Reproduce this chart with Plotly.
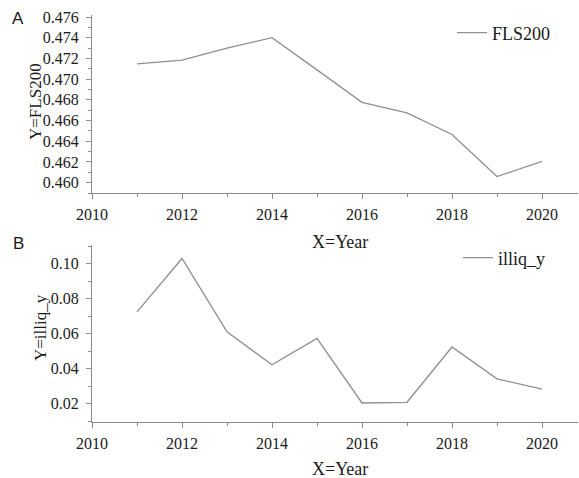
import plotly.graph_objects as go

# Annual series, 2011-2020
years = [2011, 2012, 2013, 2014, 2015, 2016, 2017, 2018, 2019, 2020]
fls200 = [0.47148, 0.47183, 0.47299, 0.47401, 0.47090, 0.46776, 0.46674, 0.46465, 0.46059, 0.46206]
illiq_y = [0.0726, 0.1031, 0.0612, 0.0423, 0.0574, 0.0205, 0.0209, 0.0525, 0.0343, 0.0284]

# axis tick layout: first tick, step, label format
year_tick0, year_dtick = 2010, 2
fls_tick0, fls_dtick, fls_fmt = 0.460, 0.002, ".3f"
illiq_tick0, illiq_dtick, illiq_fmt = 0.02, 0.02, ".2f"

LINE = "#8f8f8f"
AXIS = "#8a8a8a"
TEXT = "#1a1a1a"
SERIF = "Liberation Serif"
SANS = "Liberation Sans"

W, H = 579, 478

fig = go.Figure()
fig.add_trace(go.Scatter(x=years, y=fls200, mode="lines", name="FLS200",
                         line=dict(color=LINE, width=1.3),
                         xaxis="x", yaxis="y", legend="legend"))
fig.add_trace(go.Scatter(x=years, y=illiq_y, mode="lines", name="illiq_y",
                         line=dict(color=LINE, width=1.3),
                         xaxis="x2", yaxis="y2", legend="legend2"))

xdom = [92 / W, 578 / W]
top_dom = [(H - 193) / H, (H - 15) / H]
bot_dom = [(H - 421.7) / H, (H - 245) / H]

fig.update_layout(
    width=W, height=H,
    margin=dict(l=0, r=0, t=0, b=0, autoexpand=False),
    paper_bgcolor="white", plot_bgcolor="white",
    font=dict(family=SERIF, size=16, color=TEXT),
    xaxis=dict(domain=xdom, anchor="y", range=[2010, 2020.8],
               tick0=year_tick0, dtick=year_dtick, tickformat="d"),
    xaxis2=dict(domain=xdom, anchor="y2", range=[2010, 2020.8],
                tick0=year_tick0, dtick=year_dtick, tickformat="d"),
    yaxis=dict(domain=top_dom, anchor="x", range=[0.459, 0.4762],
               tick0=fls_tick0, dtick=fls_dtick, tickformat=fls_fmt),
    yaxis2=dict(domain=bot_dom, anchor="x2", range=[0.0098, 0.1108],
                tick0=illiq_tick0, dtick=illiq_dtick, tickformat=illiq_fmt),
    legend=dict(x=452 / W, y=1 - 33 / H, xanchor="left", yanchor="middle",
                bgcolor="rgba(0,0,0,0)", borderwidth=0,
                font=dict(family=SERIF, size=18, color=TEXT)),
    legend2=dict(x=458 / W, y=1 - 258 / H, xanchor="left", yanchor="middle",
                 bgcolor="rgba(0,0,0,0)", borderwidth=0,
                 font=dict(family=SERIF, size=18, color=TEXT)),
    showlegend=True,
)

common = dict(showline=True, linecolor=AXIS, linewidth=1.2,
              ticks="outside", ticklen=5, tickcolor=AXIS, tickwidth=1,
              showgrid=False, zeroline=False, automargin=False,
              tickfont=dict(family=SERIF, size=16, color=TEXT))
fig.update_xaxes(**common, ticklabelstandoff=2)
fig.update_yaxes(**common, ticklabelstandoff=4)

# minor ticks at the odd years and half-steps on the value axes
fig.update_xaxes(minor=dict(dtick=1, ticks="outside", ticklen=3, tickcolor=AXIS))
fig.update_layout(yaxis_minor=dict(dtick=0.001, ticks="outside", ticklen=3, tickcolor=AXIS),
                  yaxis2_minor=dict(dtick=0.01, ticks="outside", ticklen=3, tickcolor=AXIS))

annotations = [
    dict(text="A", x=18 / W, y=1 - 18 / H, font=dict(family=SANS, size=17, color=TEXT)),
    dict(text="B", x=18 / W, y=1 - 243 / H, font=dict(family=SANS, size=17, color=TEXT)),
    dict(text="X=Year", x=340 / W, y=1 - 242 / H, font=dict(family=SERIF, size=18, color=TEXT)),
    dict(text="X=Year", x=340 / W, y=1 - 469 / H, font=dict(family=SERIF, size=18, color=TEXT)),
    dict(text="Y=FLS200", x=36 / W, y=1 - 102 / H, textangle=-90,
         font=dict(family=SERIF, size=17, color=TEXT)),
    dict(text="Y=illiq_y", x=40 / W, y=1 - 328 / H, textangle=-90,
         font=dict(family=SERIF, size=17, color=TEXT)),
]
for a in annotations:
    a.update(xref="paper", yref="paper", showarrow=False, xanchor="center", yanchor="middle")
fig.update_layout(annotations=annotations)

fig.write_html("out.html")
